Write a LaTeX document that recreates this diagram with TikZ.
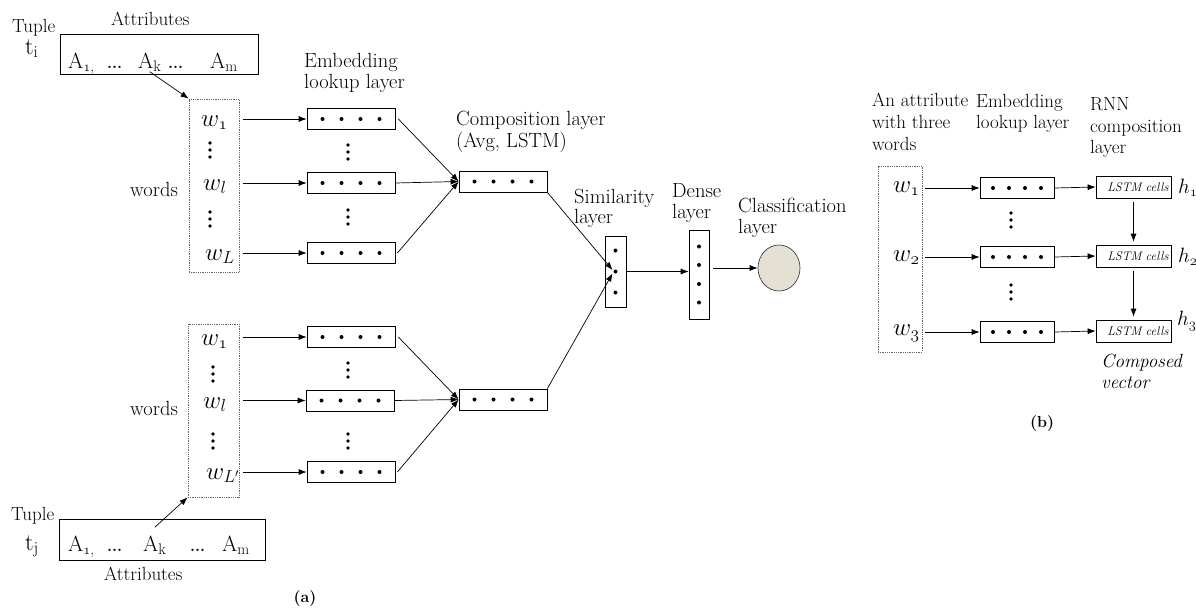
\documentclass[tikz,border=0pt]{standalone}
\usetikzlibrary{arrows.meta,shapes.geometric}
\newcommand\osf[1]{\mathchar"013#1\relax}
\definecolor{circfill}{HTML}{E4E0D4}
\definecolor{dotgray}{HTML}{666666}
\tikzset{
  myarr/.style={-{Latex[length=8pt,width=6pt]}, line width=0.7pt},
  labA/.style={font=\fontsize{20.5}{23}\selectfont, inner sep=0, anchor=base west},
  labT/.style={font=\fontsize{19}{21}\selectfont, inner sep=0, anchor=base west},
  labB/.style={font=\fontsize{19}{22}\selectfont, inner sep=0, anchor=base west},
  wtxt/.style={font=\fontsize{24}{26}\selectfont, inner sep=0, anchor=base west},
  atxt/.style={font=\fontsize{22}{24}\selectfont, inner sep=0, anchor=base west},
  dtxt/.style={font=\fontsize{16}{18}\selectfont\bfseries, inner sep=0, anchor=base west},
  plainbox/.style={draw, line width=0.7pt, inner sep=0},
  embox/.style={plainbox, minimum width=88, minimum height=21, path picture={\foreach \d in {-28.5,-9.5,9.5,28.5} \fill ([xshift=\d]path picture bounding box.center) circle (2pt);}},
  embsm/.style={plainbox, minimum width=74, minimum height=21, path picture={\foreach \d in {-24,-8,8,24} \fill ([xshift=\d]path picture bounding box.center) circle (2pt);}},
  simbox/.style={plainbox, minimum width=21, minimum height=71, path picture={\foreach \d in {-21,0,21} \fill ([yshift=\d]path picture bounding box.center) circle (2pt);}},
  densebox/.style={plainbox, minimum width=20, minimum height=89, path picture={\foreach \d in {-28,-9.5,9.5,28} \fill ([yshift=\d]path picture bounding box.center) circle (2pt);}},
  lstmbox/.style={plainbox, minimum width=75, minimum height=22, text width=70, align=right, font=\fontsize{12.5}{14}\selectfont\itshape},
  wordbox/.style={draw=dotgray, densely dotted, line width=0.8pt, inner sep=0},
  vdts/.pic={\foreach \k in {-7,0,7} \fill (0,\k) circle (1.8pt);},
}
\begin{document}
\begin{tikzpicture}[x=1pt,y=-1pt]
\useasboundingbox (0,0) rectangle (1196,614);

% ---------- top tuple ----------
\node[plainbox, minimum width=198, minimum height=40] (ta) at (159,54) {};
\node[atxt] (ta1) at (68,68) {A\textsubscript{$\osf1$,}};
\node[dtxt] (ta2) at (107,68) {...};
\node[atxt] (tak) at (138,68) {A\textsubscript{k}};
\node[dtxt] (ta3) at (168,68) {...};
\node[atxt] (tam) at (210,68) {A\textsubscript{m}};
\node[labT] (tup1) at (12,32) {Tuple};
\node[atxt, font=\fontsize{24}{26}\selectfont] (ti) at (25,54) {t\textsubscript{i}};
\node[labT] (attr1) at (111,25) {Attributes};

% ---------- top words ----------
\node[wordbox, minimum width=50, minimum height=173] (wb1) at (214,185.5) {};
\node[wtxt] (w11) at (201,126) {$w_{\osf1}$};
\pic at (210,150) {vdts};
\node[wtxt] (w1l) at (203,190) {$w_l$};
\pic at (210,219) {vdts};
\node[wtxt] (w1L) at (205,260) {$w_L$};
\node[labA] (words1) at (130,196) {words};

\node[embox] (e1) at (351,119) {};
\pic at (348,152) {vdts};
\node[embox] (e2) at (351,183) {};
\pic at (348,217) {vdts};
\node[embox] (e3) at (351,253) {};
\node[labA] (emb1) at (304,67) {Embedding};
\node[labA] (emb2) at (304,88) {lookup layer};

\node[embox] (c1) at (503,181.5) {};
\node[labA] (comp1) at (456,125) {Composition layer};
\node[labA] (comp2) at (456,147) {(Avg, LSTM)};

\draw[myarr] (tak.south) -- (wb1.north west);
\draw[myarr] ([xshift=4pt]wb1.east |- e1.west) -- (e1.west);
\draw[myarr] ([xshift=4pt]wb1.east |- e2.west) -- (e2.west);
\draw[myarr] ([xshift=4pt]wb1.east |- e3.west) -- (e3.west);
\draw[myarr] ([xshift=3pt]e1.east) -- (c1.west);
\draw[myarr] (e2.east) -- (c1.west);
\draw[myarr] ([xshift=2pt]e3.east) -- (c1.west);

% ---------- bottom words ----------
\node[wordbox, minimum width=51, minimum height=173] (wb2) at (213.5,410.5) {};
\node[wtxt] (w21) at (201,345) {$w_{\osf1}$};
\pic at (213,374) {vdts};
\node[wtxt] (w2l) at (203,408) {$w_l$};
\pic at (213,441) {vdts};
\node[wtxt] (w2L) at (206,479) {$w_{L'}$};
\node[labA] (words2) at (130,415) {words};

\node[embox] (f1) at (351,337) {};
\pic at (348,370) {vdts};
\node[embox] (f2) at (350,400.5) {};
\pic at (348,441) {vdts};
\node[embox] (f3) at (351,472) {};
\node[embox] (c2) at (503,399.5) {};

\draw[myarr] ([xshift=4pt]wb2.east |- f1.west) -- (f1.west);
\draw[myarr] ([xshift=4pt]wb2.east |- f2.west) -- (f2.west);
\draw[myarr] ([xshift=4pt]wb2.east |- f3.west) -- (f3.west);
\draw[myarr] ([xshift=3pt]f1.east) -- (c2.west);
\draw[myarr] (f2.east) -- (c2.west);
\draw[myarr] ([xshift=2pt]f3.east) -- (c2.west);

% ---------- bottom tuple ----------
\node[plainbox, minimum width=206, minimum height=41] (tb) at (162,539.5) {};
\node[atxt] (tb1) at (68,551) {A\textsubscript{$\osf1$,}};
\node[dtxt] (tb2) at (107,551) {...};
\node[atxt] (tbk) at (143,551) {A\textsubscript{k}};
\node[dtxt] (tb3) at (190,551) {...};
\node[atxt] (tbm) at (222,551) {A\textsubscript{m}};
\node[labT] (tup2) at (11,520) {Tuple};
\node[atxt, font=\fontsize{24}{26}\selectfont] (tj) at (25,550) {t\textsubscript{j}};
\node[labT] (attr2) at (104,580) {Attributes};
\draw[myarr] ([yshift=8pt]tbk.north) -- (wb2.south west);
\node[font=\fontsize{16}{18}\selectfont\bfseries, inner sep=0, anchor=base] (capa) at (305,602) {(a)};

% ---------- similarity / dense / classification ----------
\node[simbox] (s) at (615.5,271.5) {};
\node[densebox] (d) at (699,274.5) {};
\node[ellipse, draw=black!75, fill=circfill, line width=0.7pt, minimum width=42, minimum height=46, inner sep=0] (cl) at (779,268) {};
\draw[myarr] (c1.south east) -- ([xshift=-3pt,yshift=1.5pt]s.center);
\draw[myarr] (c2.north east) -- ([xshift=-3pt,yshift=-2pt]s.center);
\draw[myarr] (s.east) -- (d.west |- s.east);
\draw[myarr] ([xshift=4pt]d.east |- cl.west) -- (cl.west);
\node[labA] (sim1) at (574,203) {Similarity};
\node[labA] (sim2) at (574,223) {layer};
\node[labA] (den1) at (672,197) {Dense};
\node[labA] (den2) at (672,218) {layer};
\node[labA] (cls1) at (738,212) {Classification};
\node[labA] (cls2) at (738,233) {layer};

% ---------- panel (b) ----------
\node[wordbox, minimum width=44, minimum height=186] (wb3) at (900,259) {};
\node[wtxt] (v1) at (893,192) {$w_{\osf1}$};
\node[wtxt] (v2) at (893,261) {$w_{\osf2}$};
\node[wtxt] (v3) at (893,335) {$w_{\osf3}$};
\node[embsm] (g1) at (1017,188) {};
\pic at (1011,220) {vdts};
\node[embsm] (g2) at (1017,257) {};
\pic at (1011,292) {vdts};
\node[embsm] (g3) at (1017,332) {};
\node[lstmbox] (L1) at (1133.5,187) {LSTM cells};
\node[lstmbox] (L2) at (1133.5,256) {LSTM cells};
\node[lstmbox] (L3) at (1133.5,331) {LSTM cells};
\node[atxt] (h1) at (1178,193) {$h_{\osf1}$};
\node[atxt] (h2) at (1178,262) {$h_{\osf2}$};
\node[atxt] (h3) at (1177,325) {$h_{\osf3}$};

\draw[myarr] ([xshift=3pt]wb3.east |- g1.west) -- (g1.west);
\draw[myarr] ([xshift=3pt]wb3.east |- g2.west) -- (g2.west);
\draw[myarr] ([xshift=3pt]wb3.east |- g3.west) -- (g3.west);
\draw[myarr] (g1.east) -- (L1.west);
\draw[myarr] (g2.east) -- (L2.west);
\draw[myarr] (g3.east) -- (L3.west);
\draw[myarr] ([yshift=-4pt]L1.south) -- ([yshift=3pt]L2.north);
\draw[myarr] ([yshift=-4pt]L2.south) -- ([yshift=3pt]L3.north);

\node[labB] (an1) at (872,106) {An attribute};
\node[labB] (an2) at (872,128) {with three};
\node[labB] (an3) at (872,150) {words};
\node[labB] (eb1) at (976,107) {Embedding};
\node[labB] (eb2) at (976,128) {lookup layer};
\node[labB] (rn1) at (1090,110) {RNN};
\node[labB] (rn2) at (1090,132) {composition};
\node[labB] (rn3) at (1090,153) {layer};
\node[labB, font=\fontsize{19}{22}\selectfont\itshape] (cv1) at (1101,367) {Composed};
\node[labB, font=\fontsize{19}{22}\selectfont\itshape] (cv2) at (1101,388) {vector};
\node[font=\fontsize{16}{18}\selectfont\bfseries, inner sep=0, anchor=base] (capb) at (1042,427) {(b)};
\end{tikzpicture}
\end{document}
